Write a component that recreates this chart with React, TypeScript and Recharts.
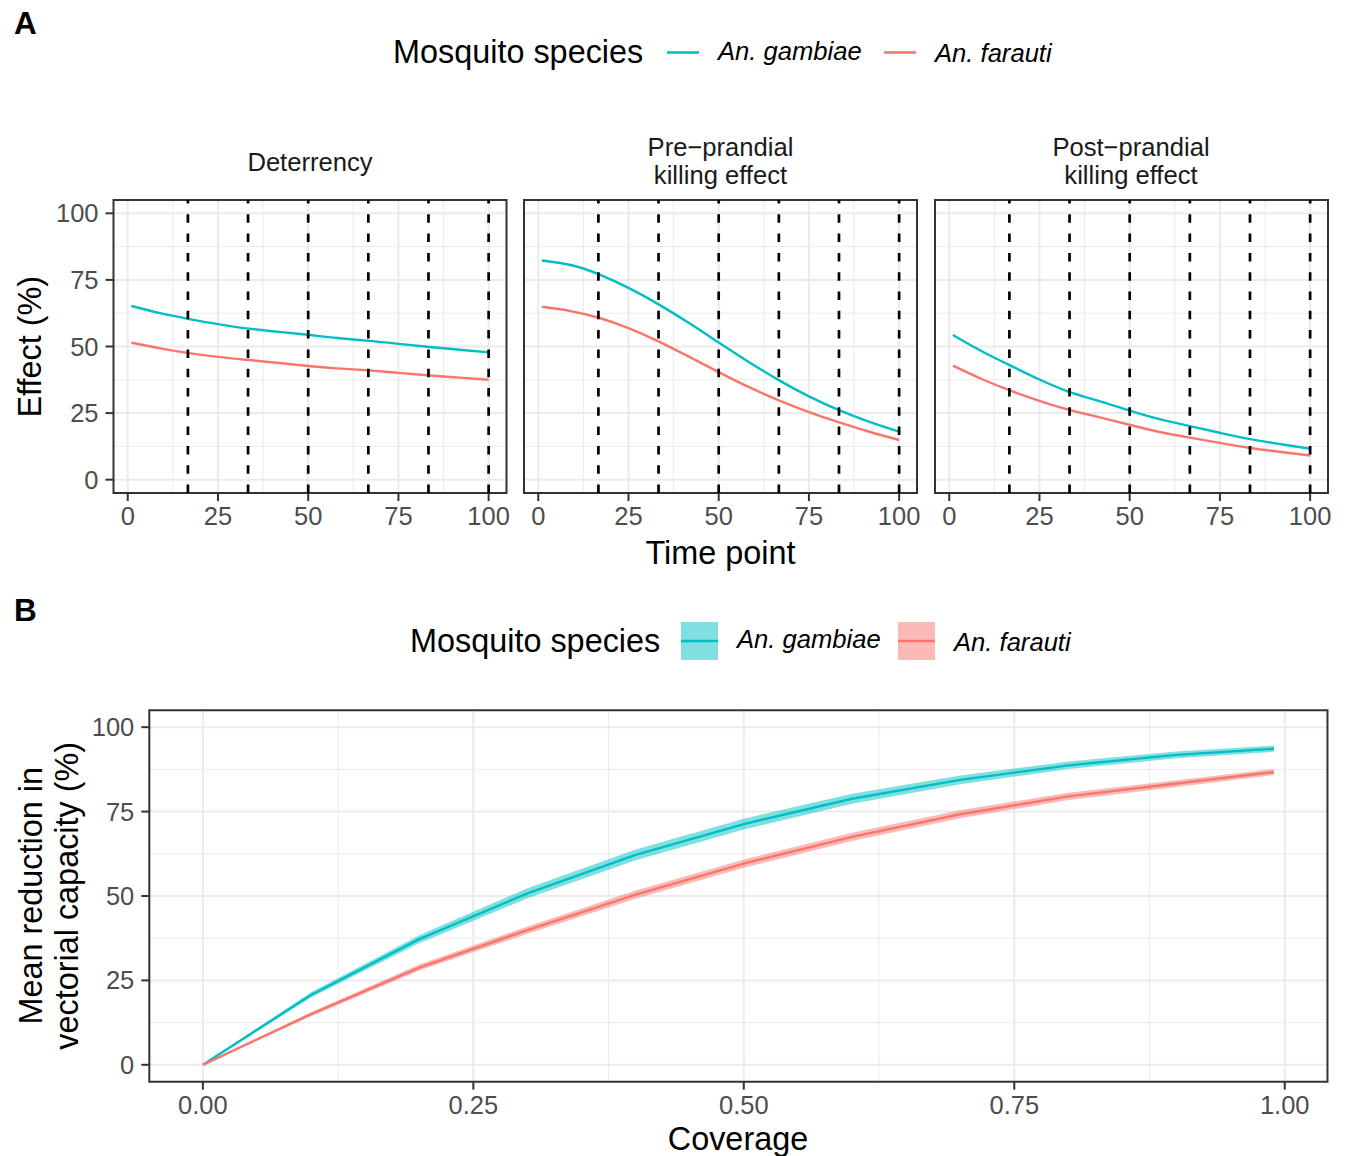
import {
  Area,
  CartesianGrid,
  ComposedChart,
  Line,
  LineChart,
  ReferenceArea,
  ReferenceLine,
  XAxis,
  YAxis,
} from "recharts";

// ---- panel A data ----
const timePoints = [1, 9, 17, 25, 33, 42, 50, 58, 67, 75, 83, 92, 100];

const deterGambiae = [65.2, 62.5, 60.3, 58.4, 56.8, 55.5, 54.4, 53.2, 52.1, 51.0, 49.9, 48.8, 47.8];
const deterFarauti = [51.4, 49.3, 47.5, 46.1, 45.0, 43.8, 42.7, 41.8, 41.0, 40.1, 39.2, 38.3, 37.5];
const preGambiae = [82.3, 80.6, 77.0, 72.0, 66.1, 58.6, 51.5, 44.5, 37.1, 31.3, 26.3, 21.6, 18.0];
const preFarauti = [64.9, 63.3, 60.7, 56.9, 52.1, 46.0, 40.4, 35.0, 29.6, 25.4, 21.7, 17.9, 14.9];
const postGambiae = [54.3, 48.2, 42.8, 37.6, 33.1, 29.3, 25.9, 22.8, 20.0, 17.6, 15.3, 13.3, 11.6];
const postFarauti = [42.8, 37.8, 33.4, 29.6, 26.3, 23.3, 20.6, 18.0, 15.7, 13.8, 12.0, 10.4, 9.1];

const facetTitles = [["Deterrency"], ["Pre\u2212prandial", "killing effect"], ["Post\u2212prandial", "killing effect"]];
const cutPoints = [100 / 6, 200 / 6, 50, 400 / 6, 500 / 6, 100];
const timeTicks = [0, 25, 50, 75, 100];
const timeMinor = [12.5, 37.5, 62.5, 87.5];
const effectTicks = [0, 25, 50, 75, 100];
const effectMinor = [12.5, 37.5, 62.5, 87.5];

// ---- panel B data ----
const coverage = [0, 0.1, 0.2, 0.3, 0.4, 0.5, 0.6, 0.7, 0.8, 0.9, 0.99];
const vcGambiae = [0, 20.7, 37.2, 50.8, 62.2, 71.3, 78.8, 84.4, 88.7, 91.8, 93.6];
const vcGambiaeLo = [0, 19.9, 36.0, 49.3, 60.6, 69.7, 77.3, 83.1, 87.6, 90.8, 92.7];
const vcGambiaeHi = [0, 21.5, 38.4, 52.3, 63.8, 72.9, 80.3, 85.7, 89.8, 92.8, 94.5];
const vcFarauti = [0, 15.0, 28.8, 39.9, 50.4, 59.6, 67.5, 74.2, 79.5, 83.3, 86.7];
const vcFarautiLo = [0, 14.4, 27.9, 38.8, 49.2, 58.4, 66.3, 73.0, 78.4, 82.3, 85.8];
const vcFarautiHi = [0, 15.6, 29.7, 41.0, 51.6, 60.8, 68.7, 75.4, 80.6, 84.3, 87.6];
const coverageTicks = [0, 0.25, 0.5, 0.75, 1];
const coverageMinor = [0.125, 0.375, 0.625, 0.875];

const TEAL = "#00BFC4";
const SALMON = "#F8766D";
const FONT = "'Liberation Sans', Arial, Helvetica, sans-serif";

const facetData = [
  timePoints.map((t, i) => ({ t, g: deterGambiae[i], f: deterFarauti[i] })),
  timePoints.map((t, i) => ({ t, g: preGambiae[i], f: preFarauti[i] })),
  timePoints.map((t, i) => ({ t, g: postGambiae[i], f: postFarauti[i] })),
];

const coverageData = coverage.map((c, i) => ({
  c,
  g: vcGambiae[i],
  gBand: [vcGambiaeLo[i], vcGambiaeHi[i]],
  f: vcFarauti[i],
  fBand: [vcFarautiLo[i], vcFarautiHi[i]],
}));

const facetLefts = [113.5, 524, 934.5];
const plotW = 393;
const plotTop = 200.3;
const plotH = 293;

const tickStyle = { fill: "#4D4D4D", fontSize: 25.5, fontFamily: FONT };
const tickLine = { stroke: "#333333", strokeWidth: 2 };

function Facet({ idx }: { idx: number }) {
  const showY = idx === 0;
  const yW = showY ? 113.5 : 0;
  const ml = showY ? 0 : 10;
  const mr = 14;
  const mt = 10;
  const xH = 40;
  const width = ml + yW + plotW + mr;
  const height = mt + plotH + xH;
  const left = facetLefts[idx] - yW - ml;
  return (
    <div style={{ position: "absolute", left, top: plotTop - mt }}>
      <LineChart width={width} height={height} data={facetData[idx]} margin={{ top: mt, right: mr, bottom: 0, left: ml }}>
        <CartesianGrid stroke="#EBEBEB" strokeWidth={1} horizontalValues={effectMinor} verticalValues={timeMinor} />
        <CartesianGrid stroke="#EBEBEB" strokeWidth={2} horizontalValues={effectTicks} verticalValues={timeTicks} />
        <XAxis
          type="number"
          dataKey="t"
          domain={[-3.95, 104.95]}
          ticks={timeTicks}
          height={xH}
          axisLine={false}
          tickLine={tickLine}
          tickSize={8}
          tickMargin={6}
          tick={tickStyle}
          interval={0}
        />
        <YAxis
          hide={!showY}
          type="number"
          domain={[-5, 105]}
          ticks={effectTicks}
          width={yW}
          axisLine={false}
          tickLine={tickLine}
          tickSize={8}
          tickMargin={7}
          tick={tickStyle}
          interval={0}
        />
        <Line type="natural" dataKey="g" stroke={TEAL} strokeWidth={2.4} dot={false} isAnimationActive={false} />
        <Line type="natural" dataKey="f" stroke={SALMON} strokeWidth={2.4} dot={false} isAnimationActive={false} />
        {cutPoints.map((v) => (
          <ReferenceLine key={v} x={v} stroke="#000000" strokeWidth={2.7} strokeDasharray="8.5 10.8" />
        ))}
        <ReferenceArea x1={-3.95} x2={104.95} y1={-5} y2={105} fill="none" stroke="#333333" strokeWidth={2} />
      </LineChart>
    </div>
  );
}

function CoveragePanel() {
  const mt = 10.3;
  const yW = 149.3;
  const pw = 1178.2;
  const ph = 371.4;
  const mr = 14;
  const xH = 40;
  return (
    <div style={{ position: "absolute", left: 0, top: 700 }}>
      <ComposedChart
        width={yW + pw + mr}
        height={mt + ph + xH}
        data={coverageData}
        margin={{ top: mt, right: mr, bottom: 0, left: 0 }}
      >
        <CartesianGrid stroke="#EBEBEB" strokeWidth={1} horizontalValues={effectMinor} verticalValues={coverageMinor} />
        <CartesianGrid stroke="#EBEBEB" strokeWidth={2} horizontalValues={effectTicks} verticalValues={coverageTicks} />
        <XAxis
          type="number"
          dataKey="c"
          domain={[-0.0495, 1.0395]}
          ticks={coverageTicks}
          tickFormatter={(v: number) => v.toFixed(2)}
          height={xH}
          axisLine={false}
          tickLine={tickLine}
          tickSize={8}
          tickMargin={6}
          tick={tickStyle}
          interval={0}
        />
        <YAxis
          type="number"
          domain={[-5, 105]}
          ticks={effectTicks}
          width={yW}
          axisLine={false}
          tickLine={tickLine}
          tickSize={8}
          tickMargin={7}
          tick={tickStyle}
          interval={0}
        />
        <Area type="linear" dataKey="gBand" fill={TEAL} fillOpacity={0.5} stroke="none" isAnimationActive={false} />
        <Area type="linear" dataKey="fBand" fill={SALMON} fillOpacity={0.5} stroke="none" isAnimationActive={false} />
        <Line type="linear" dataKey="g" stroke={TEAL} strokeWidth={2.4} dot={false} isAnimationActive={false} />
        <Line type="linear" dataKey="f" stroke={SALMON} strokeWidth={2.4} dot={false} isAnimationActive={false} />
        <ReferenceArea x1={-0.0495} x2={1.0395} y1={-5} y2={105} fill="none" stroke="#333333" strokeWidth={2} />
      </ComposedChart>
    </div>
  );
}

function Labels() {
  const stripY = [[170.7], [156, 183.5], [156, 183.5]];
  return (
    <svg
      width={1346}
      height={1156}
      style={{ position: "absolute", left: 0, top: 0, pointerEvents: "none" }}
      fontFamily={FONT}
    >
      <text x={14} y={34.3} fontSize={31.5} fontWeight="bold" fill="#000">A</text>
      <text x={14} y={621} fontSize={31.5} fontWeight="bold" fill="#000">B</text>

      {/* legend A */}
      <text x={393} y={63} fontSize={32.4} fill="#000">Mosquito species</text>
      <line x1={667} x2={699} y1={52.5} y2={52.5} stroke={TEAL} strokeWidth={2.6} />
      <text x={718} y={59.5} fontSize={25.6} fontStyle="italic" fill="#000">An. gambiae</text>
      <line x1={884} x2={916} y1={52.5} y2={52.5} stroke={SALMON} strokeWidth={2.6} />
      <text x={935} y={62} fontSize={25.6} fontStyle="italic" fill="#000">An. farauti</text>

      {/* strips */}
      {facetTitles.map((lines, i) =>
        lines.map((s, j) => (
          <text key={i + "-" + j} x={facetLefts[i] + plotW / 2} y={stripY[i][j]} fontSize={25.6} textAnchor="middle" fill="#1A1A1A">
            {s}
          </text>
        ))
      )}

      <text transform="translate(40.5,346.8) rotate(-90)" fontSize={32.4} textAnchor="middle" fill="#000">Effect (%)</text>
      <text x={720.5} y={564} fontSize={32.4} textAnchor="middle" fill="#000">Time point</text>

      {/* legend B */}
      <text x={410} y={651.5} fontSize={32.4} fill="#000">Mosquito species</text>
      <rect x={681} y={622} width={37} height={38} fill={TEAL} fillOpacity={0.5} />
      <line x1={681} x2={718} y1={641} y2={641} stroke={TEAL} strokeWidth={2.6} />
      <text x={737} y={647.5} fontSize={25.6} fontStyle="italic" fill="#000">An. gambiae</text>
      <rect x={898} y={622} width={37} height={38} fill={SALMON} fillOpacity={0.5} />
      <line x1={898} x2={935} y1={641} y2={641} stroke={SALMON} strokeWidth={2.6} />
      <text x={954} y={650.5} fontSize={25.6} fontStyle="italic" fill="#000">An. farauti</text>

      <text transform="translate(41.5,895.8) rotate(-90)" fontSize={32.4} textAnchor="middle" fill="#000">Mean reduction in</text>
      <text transform="translate(77.5,895.8) rotate(-90)" fontSize={32.4} textAnchor="middle" fill="#000">vectorial capacity (%)</text>
      <text x={738} y={1150} fontSize={32.4} textAnchor="middle" fill="#000">Coverage</text>
    </svg>
  );
}

export default function App() {
  return (
    <div style={{ position: "absolute", left: 0, top: 0, width: 1346, height: 1156, background: "#fff", overflow: "hidden", fontFamily: FONT }}>
      <Facet idx={0} />
      <Facet idx={1} />
      <Facet idx={2} />
      <CoveragePanel />
      <Labels />
    </div>
  );
}
